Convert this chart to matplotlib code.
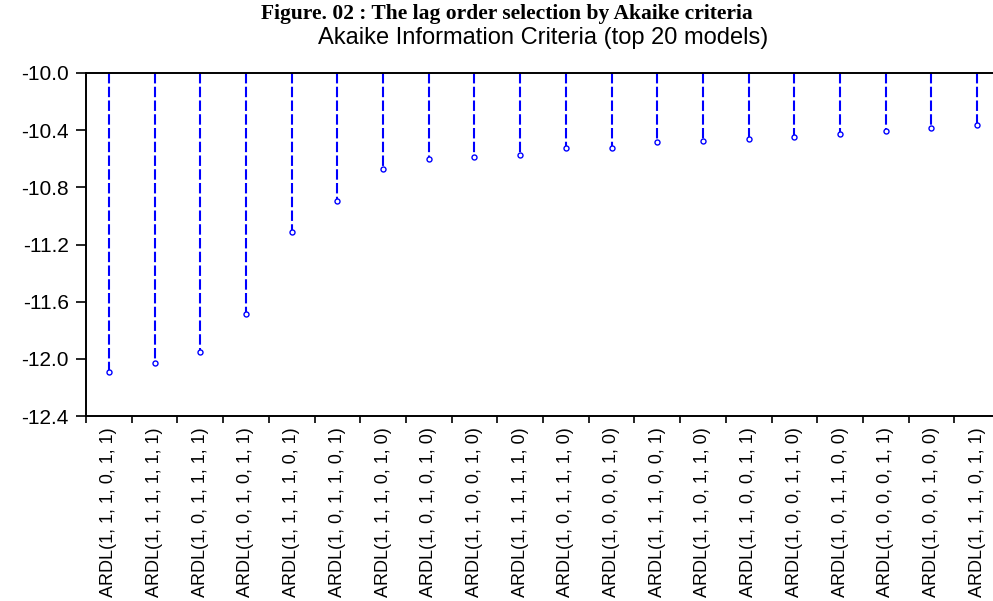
import matplotlib.pyplot as plt
import numpy as np

# ---------------- Dados ----------------
modelos = [
    "ARDL(1, 1, 1, 0, 1, 1)", "ARDL(1, 1, 1, 1, 1, 1)", "ARDL(1, 0, 1, 1, 1, 1)",
    "ARDL(1, 0, 1, 0, 1, 1)", "ARDL(1, 1, 1, 1, 0, 1)", "ARDL(1, 0, 1, 1, 0, 1)",
    "ARDL(1, 1, 1, 0, 1, 0)", "ARDL(1, 0, 1, 0, 1, 0)", "ARDL(1, 1, 0, 0, 1, 0)",
    "ARDL(1, 1, 1, 1, 1, 0)", "ARDL(1, 0, 1, 1, 1, 0)", "ARDL(1, 0, 0, 0, 1, 0)",
    "ARDL(1, 1, 1, 0, 0, 1)", "ARDL(1, 1, 0, 1, 1, 0)", "ARDL(1, 1, 0, 0, 1, 1)",
    "ARDL(1, 0, 0, 1, 1, 0)", "ARDL(1, 0, 1, 1, 0, 0)", "ARDL(1, 0, 0, 0, 1, 1)",
    "ARDL(1, 0, 0, 1, 0, 0)", "ARDL(1, 1, 1, 0, 1, 1)",
]
aic = [
    -12.093, -12.026, -11.953, -11.687, -11.116, -10.898, -10.675,
    -10.600, -10.585, -10.571, -10.525, -10.525, -10.480, -10.474,
    -10.464, -10.450, -10.427, -10.404, -10.387, -10.364,
]
y_ticks = [-10.0, -10.4, -10.8, -11.2, -11.6, -12.0, -12.4]

plt.rcParams['axes.unicode_minus'] = False
plt.rcParams['font.family'] = ['Liberation Sans', 'DejaVu Sans']

fig = plt.figure(figsize=(9.93, 6.01), dpi=100)
ax = fig.add_axes([86 / 993, 1 - 416 / 601, (1000 - 86) / 993, (416 - 73) / 601])

x = np.arange(len(aic))
marcadores, linhas, base = ax.stem(x, aic, bottom=-10.0, basefmt=' ')
plt.setp(linhas, color='#0000ff', linewidth=1.5, linestyle=(0, (5, 1.6)))
plt.setp(marcadores, marker='o', markersize=3.6, markerfacecolor='white',
         markeredgecolor='#0000ff', markeredgewidth=1.0, zorder=3)

ax.set_xlim(-0.5, len(aic) - 0.5)
ax.set_ylim(-12.4, -10.0)
ax.set_yticks(y_ticks)
ax.set_yticklabels([f"{v:.1f}" for v in y_ticks])

# rótulos centrados nas hastes, marcas de tick entre os modelos
ax.set_xticks(x)
ax.set_xticklabels(modelos, rotation=90, fontsize=13)
ax.set_xticks(np.arange(-0.5, len(aic), 1.0), minor=True)
ax.tick_params(axis='x', which='major', length=0, pad=8)
ax.tick_params(axis='x', which='minor', length=5, width=1.2, direction='out')
ax.tick_params(axis='y', length=7.5, width=1.2, direction='out', labelsize=15, pad=5)

for lado in ['left', 'bottom', 'top']:
    ax.spines[lado].set_linewidth(1.4)
ax.spines['right'].set_visible(False)

fig.text(507 / 993, 1 - 14 / 601, "Figure. 02 : The lag order selection by Akaike criteria",
         ha='center', va='center', fontsize=15.5, fontweight='bold', family='Liberation Serif')
fig.text(543 / 993, 1 - 38 / 601, "Akaike Information Criteria (top 20 models)",
         ha='center', va='center', fontsize=17)

plt.savefig("out.png", dpi=100)
